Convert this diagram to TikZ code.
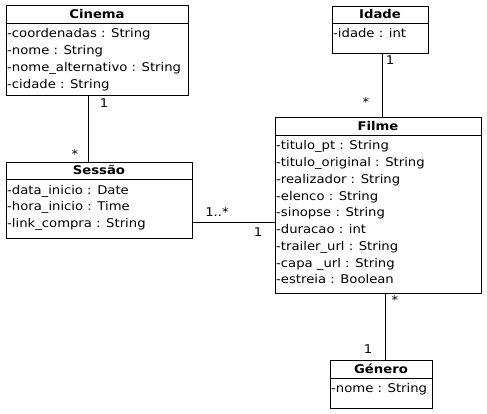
\documentclass[tikz,border=0pt]{standalone}
\usepackage{fontspec}
\setmainfont{DejaVu Sans}[FakeStretch=1.1]
\begin{document}
\begin{tikzpicture}[x=1pt,y=-1pt,
  umlbox/.style={draw=black, line width=1pt, fill=white, inner sep=0pt, outer sep=0pt, anchor=north west},
  umltitle/.style={inner sep=0pt, anchor=base, font=\fontsize{12}{16.75}\selectfont\bfseries},
  umlattr/.style={inner sep=0pt, anchor=north west, align=left, font=\fontsize{12}{16.75}\selectfont},
  mult/.style={inner sep=0pt, anchor=base, font=\fontsize{12}{16.75}\selectfont},
  sep/.style={line width=1pt},
  assoc/.style={line width=1pt}]
\useasboundingbox (0,0) rectangle (487,413);
% Cinema
\node[umlbox, minimum width=182pt, minimum height=90pt] (cinema) at (6,5) {};
\draw[sep] (cinema.west |- 0,23) -- (cinema.east |- 0,23);
\node[umltitle] (cinemaT) at (97,18.5) {Cinema};
\node[umlattr] (cinemaA) at (7,27.7) {\rule{0pt}{10pt}-coordenadas : String\\-nome : String\\-nome\_alternativo : String\\-cidade : String};
% Idade
\node[umlbox, minimum width=96pt, minimum height=47pt] (idade) at (332,6) {};
\draw[sep] (idade.west |- 0,23) -- (idade.east |- 0,23);
\node[umltitle] (idadeT) at (380,18.5) {Idade};
\node[umlattr] (idadeA) at (333,27.7) {\rule{0pt}{10pt}-idade : int};
% Sessao
\node[umlbox, minimum width=186pt, minimum height=76pt] (sessao) at (6,162) {};
\draw[sep] (sessao.west |- 0,179) -- (sessao.east |- 0,179);
\node[umltitle] (sessaoT) at (99,174.5) {Sessão};
\node[umlattr] (sessaoA) at (7,183.9) {\rule{0pt}{10pt}-data\_inicio : Date\\-hora\_inicio : Time\\-link\_compra : String};
% Filme
\node[umlbox, minimum width=206pt, minimum height=176pt] (filme) at (275,117) {};
\draw[sep] (filme.west |- 0,135) -- (filme.east |- 0,135);
\node[umltitle] (filmeT) at (378,130.5) {Filme};
\node[umlattr] (filmeA) at (276,139.7) {\rule{0pt}{10pt}-titulo\_pt : String\\-titulo\_original : String\\-realizador : String\\-elenco : String\\-sinopse : String\\-duracao : int\\-trailer\_url : String\\-capa \_url : String\\-estreia : Boolean};
% Genero
\node[umlbox, minimum width=102pt, minimum height=48pt] (genero) at (330,360) {};
\draw[sep] (genero.west |- 0,378) -- (genero.east |- 0,378);
\node[umltitle] (generoT) at (381,373.5) {Género};
\node[umlattr] (generoA) at (331,382.7) {\rule{0pt}{10pt}-nome : String};
% Associations
\draw[assoc] (cinema.south -| 88,0) -- (sessao.north -| 88,0);
\node[mult] (m1) at (104,107.5) {1};
\node[mult] (m2) at (75,158) {*};
\draw[assoc] (idade.south -| 382,0) -- (filme.north -| 382,0);
\node[mult] (m3) at (390,64.5) {1};
\node[mult] (m4) at (366,106) {*};
\draw[assoc] (sessao.east |- 0,222) -- (filme.west |- 0,222);
\node[mult] (m5) at (217,216.5) {1..*};
\node[mult] (m6) at (258,236.5) {1};
\draw[assoc] (filme.south -| 385,0) -- (genero.north -| 385,0);
\node[mult] (m7) at (395,304) {*};
\node[mult] (m8) at (368,353.5) {1};
\end{tikzpicture}
\end{document}
